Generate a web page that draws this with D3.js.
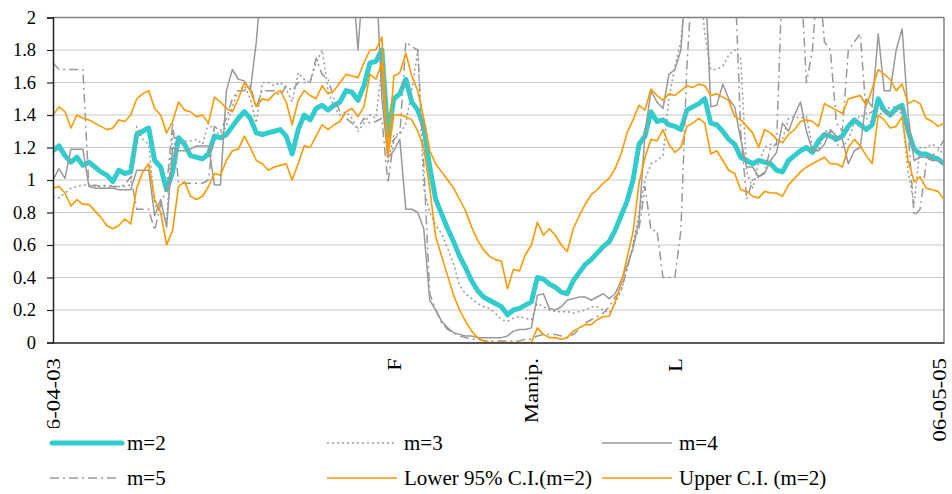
<!DOCTYPE html>
<html><head><meta charset="utf-8">
<script src="https://cdn.jsdelivr.net/npm/d3@7"></script>
<style>
html,body{margin:0;padding:0;background:#fff;}
svg{display:block;}
svg text{font-family:"Liberation Serif","Times New Roman",Times,serif;}
</style></head>
<body><svg id="chart" width="952" height="494"></svg>
<script>
// ---- data ----
const xTickIdx    = [0, 57, 80, 104, 149];
const xTickLabels = ["06-04-03", "F", "Manip.", "L", "06-05-05"];
const yTicks = [0, 0.2, 0.4, 0.6, 0.8, 1, 1.2, 1.4, 1.6, 1.8, 2];

const m2 = [1.18,1.21,1.15,1.11,1.14,1.09,1.11,1.08,1.05,1.03,0.99,1.06,1.04,1.05,1.28,1.30,1.32,1.12,1.08,0.94,
1.05,1.26,1.22,1.15,1.14,1.13,1.16,1.27,1.26,1.28,1.33,1.38,1.42,1.38,1.29,1.28,1.29,1.30,1.31,1.27,
1.16,1.31,1.40,1.37,1.44,1.46,1.43,1.46,1.48,1.55,1.54,1.49,1.58,1.72,1.73,1.80,1.27,1.50,1.53,1.62,
1.48,1.43,1.33,1.08,0.88,0.79,0.70,0.62,0.53,0.46,0.38,0.32,0.28,0.26,0.24,0.22,0.17,0.20,0.21,0.23,
0.25,0.40,0.39,0.36,0.34,0.31,0.30,0.38,0.43,0.48,0.51,0.55,0.59,0.62,0.69,0.78,0.87,1.00,1.22,1.27,
1.42,1.36,1.37,1.34,1.33,1.31,1.43,1.45,1.47,1.50,1.35,1.34,1.30,1.25,1.22,1.14,1.12,1.10,1.12,1.11,
1.10,1.06,1.05,1.12,1.15,1.18,1.20,1.17,1.24,1.28,1.27,1.25,1.27,1.33,1.37,1.34,1.31,1.34,1.50,1.43,
1.40,1.44,1.46,1.30,1.19,1.16,1.16,1.14,1.13,1.10];

const m3 = [0.90,0.89,0.92,0.95,0.96,0.97,0.97,0.96,0.96,0.96,0.95,0.96,0.96,0.97,1.33,1.25,1.22,0.85,0.80,0.75,
1.30,1.22,1.24,1.24,1.25,1.22,1.35,1.30,1.28,1.33,1.45,1.55,1.58,1.50,1.35,1.60,1.60,1.58,1.60,1.56,
1.48,1.66,1.62,1.60,1.72,1.80,1.55,1.45,1.40,1.42,1.38,1.30,1.35,1.40,1.38,1.70,1.10,1.28,1.28,1.35,
1.55,1.80,0.95,0.80,0.72,0.67,0.58,0.48,0.35,0.30,0.27,0.24,0.22,0.21,0.18,0.14,0.13,0.15,0.16,0.15,
0.14,0.24,0.22,0.20,0.19,0.19,0.19,0.18,0.19,0.20,0.22,0.22,0.20,0.18,0.24,0.32,0.45,0.60,0.80,1.00,
1.10,1.12,1.15,1.50,1.70,1.85,2.30,2.30,2.30,1.90,1.68,1.68,1.70,1.77,1.80,1.75,1.05,0.95,1.10,1.20,
1.22,1.22,1.25,1.38,1.39,1.38,1.39,1.20,1.18,1.30,1.30,1.22,1.20,1.25,1.35,1.40,1.38,1.35,1.40,1.42,
1.45,1.45,1.40,1.05,0.85,1.20,1.20,1.22,1.20,1.15];

const m4 = [1.00,1.07,1.01,1.19,1.19,1.19,0.96,0.95,0.95,0.95,0.95,0.94,0.94,0.94,1.06,1.06,1.06,0.78,0.88,0.71,
1.20,1.18,1.18,1.19,1.21,1.21,1.21,0.97,0.97,1.55,1.68,1.62,1.61,1.55,1.85,2.30,2.30,2.30,2.30,2.30,
2.30,2.30,2.30,2.30,2.30,2.30,2.30,2.30,2.30,2.30,2.30,1.80,2.30,2.30,2.30,1.50,1.14,1.18,1.25,0.82,
0.82,0.80,0.70,0.26,0.20,0.13,0.09,0.06,0.05,0.04,0.04,0.03,0.03,0.03,0.03,0.03,0.04,0.07,0.08,0.08,
0.09,0.29,0.30,0.21,0.20,0.22,0.26,0.27,0.28,0.28,0.26,0.28,0.30,0.27,0.30,0.38,0.47,0.58,0.75,1.29,
1.55,1.48,1.44,1.65,1.68,1.80,2.30,2.30,2.30,2.30,1.45,1.46,1.59,1.50,1.45,1.25,1.08,1.08,1.02,1.04,
1.12,1.17,1.35,1.30,1.40,1.48,1.30,1.18,1.18,1.22,1.31,1.27,1.25,1.10,1.18,1.20,1.50,1.45,1.90,1.55,
1.55,1.80,1.93,1.40,1.12,1.14,1.14,1.12,1.12,1.10];

const m5 = [1.72,1.68,1.68,1.68,1.68,1.68,0.96,0.97,0.96,0.97,0.96,0.96,0.97,1.02,0.82,0.82,0.82,0.69,0.85,0.95,
1.35,0.98,0.98,0.98,0.98,0.98,1.00,1.33,1.30,1.38,1.50,1.55,1.55,1.58,1.45,1.55,1.55,1.55,1.52,1.58,
1.55,1.60,1.60,1.60,1.75,1.65,1.62,1.50,1.42,1.38,1.35,1.32,1.38,1.35,1.36,1.38,0.98,1.25,1.28,1.85,
1.82,1.80,1.10,0.30,0.20,0.12,0.08,0.06,0.04,0.03,0.02,0.02,0.01,0.01,0.01,0.01,0.01,0.01,0.01,0.02,
0.02,0.04,0.05,0.05,0.05,0.04,0.03,0.05,0.08,0.12,0.14,0.16,0.18,0.22,0.28,0.32,0.45,0.60,0.70,0.96,
0.69,0.69,0.40,0.40,0.40,0.69,1.70,2.30,2.30,2.30,2.30,2.30,2.30,2.30,2.30,1.30,0.88,1.00,1.02,1.05,
1.20,1.22,2.30,2.30,2.30,2.30,1.60,1.80,2.30,1.85,1.80,1.35,1.30,1.80,1.85,1.90,1.40,1.42,1.45,1.42,
1.40,1.42,1.45,1.30,0.78,0.82,1.10,1.15,1.18,1.25];

const lowerCI = [0.95,0.96,0.92,0.84,0.88,0.85,0.85,0.81,0.77,0.72,0.70,0.72,0.76,0.73,0.95,1.05,1.10,0.88,0.80,0.60,
0.69,0.96,0.99,0.90,0.88,0.90,0.96,1.04,1.03,1.12,1.18,1.19,1.27,1.20,1.12,1.10,1.06,1.08,1.09,1.10,
1.00,1.10,1.21,1.20,1.27,1.34,1.31,1.34,1.36,1.42,1.44,1.39,1.45,1.65,1.62,1.72,1.14,1.40,1.40,1.39,
1.37,1.30,1.20,0.95,0.65,0.53,0.41,0.29,0.20,0.13,0.07,0.03,0.01,0.00,0.00,0.00,0.00,0.00,0.00,0.00,
0.00,0.09,0.05,0.03,0.03,0.02,0.03,0.07,0.09,0.11,0.11,0.14,0.16,0.16,0.25,0.36,0.52,0.68,0.98,1.14,
1.25,1.24,1.31,1.22,1.17,1.20,1.33,1.35,1.38,1.35,1.16,1.18,1.12,1.06,1.04,0.94,0.93,0.90,0.89,0.93,
0.92,0.92,0.90,0.97,1.01,1.05,1.08,1.10,1.12,1.14,1.10,1.10,1.08,1.20,1.25,1.21,1.15,1.10,1.40,1.37,
1.32,1.33,1.39,1.12,0.99,1.02,0.95,0.94,0.93,0.88];

const upperCI = [1.40,1.45,1.42,1.32,1.40,1.38,1.37,1.35,1.33,1.31,1.32,1.37,1.36,1.40,1.50,1.53,1.55,1.44,1.40,1.29,
1.36,1.48,1.43,1.42,1.39,1.40,1.35,1.51,1.48,1.44,1.42,1.50,1.60,1.55,1.45,1.50,1.49,1.53,1.55,1.48,
1.34,1.49,1.55,1.52,1.50,1.58,1.53,1.55,1.60,1.65,1.64,1.63,1.72,1.80,1.80,1.88,1.16,1.64,1.66,1.78,
1.64,1.55,1.38,1.18,1.10,1.05,1.00,0.95,0.88,0.81,0.71,0.63,0.57,0.53,0.51,0.50,0.33,0.45,0.44,0.54,
0.60,0.74,0.66,0.70,0.66,0.60,0.56,0.70,0.78,0.85,0.91,0.94,0.98,1.01,1.07,1.16,1.29,1.37,1.46,1.43,
1.56,1.52,1.49,1.53,1.52,1.55,1.58,1.57,1.59,1.58,1.52,1.53,1.51,1.49,1.39,1.37,1.33,1.29,1.20,1.31,
1.29,1.25,1.23,1.28,1.31,1.36,1.37,1.36,1.33,1.47,1.45,1.43,1.41,1.50,1.51,1.52,1.46,1.56,1.68,1.65,
1.62,1.55,1.59,1.47,1.49,1.47,1.38,1.36,1.33,1.35];

const seriesNames = ["m=2","m=3","m=4","m=5","Lower 95% C.I.(m=2)","Upper C.I. (m=2)"];

// ---- drawing ----
const FONT = "'Liberation Serif','Times New Roman',Times,serif";
const svg = d3.select("#chart");
const L = 53, R = 944, T = 17.5, B = 342.5;
const N = m2.length;
const x = d3.scaleLinear().domain([0, N - 1]).range([L, R]);
const y = d3.scaleLinear().domain([0, 2]).range([B, T]);

// gridlines
svg.append("g").selectAll("line").data(yTicks.filter(v => v > 0 && v < 2)).join("line")
  .attr("x1", L).attr("x2", R).attr("y1", d => y(d)).attr("y2", d => y(d))
  .attr("stroke", "#c8c8c8").attr("stroke-width", 1);

// plot frame (top and right)
svg.append("line").attr("x1", L).attr("x2", R).attr("y1", T).attr("y2", T)
  .attr("stroke", "#808080").attr("stroke-width", 1.5);
svg.append("line").attr("x1", R).attr("x2", R).attr("y1", T).attr("y2", B)
  .attr("stroke", "#808080").attr("stroke-width", 1.5);

svg.append("clipPath").attr("id", "clip").append("rect")
  .attr("x", L).attr("y", T).attr("width", R - L).attr("height", B - T);

const line = d3.line().x((d, i) => x(i)).y(d => y(d));
const styles = [
  {data: m2, color: "#33CCCC", w: 5, dash: null},
  {data: m3, color: "#999999", w: 1.5, dash: "2,3"},
  {data: m4, color: "#999999", w: 1.5, dash: null},
  {data: m5, color: "#999999", w: 1.5, dash: "9,4,2,4"},
  {data: lowerCI, color: "#FF9900", w: 1.6, dash: null},
  {data: upperCI, color: "#FF9900", w: 1.6, dash: null}
];
const gLines = svg.append("g").attr("clip-path", "url(#clip)");
styles.forEach(s => {
  gLines.append("path").datum(s.data).attr("d", line)
    .attr("fill", "none").attr("stroke", s.color).attr("stroke-width", s.w)
    .attr("stroke-linejoin", "round")
    .attr("stroke-dasharray", s.dash);
});

// y axis
const yAxis = svg.append("g").attr("transform", `translate(${L},0)`)
  .call(d3.axisLeft(y).tickValues(yTicks).tickSize(6).tickPadding(11).tickFormat(d3.format("")));
yAxis.attr("font-family", null).attr("font-size", null);
yAxis.select(".domain").attr("stroke", "#222").attr("stroke-width", 1.5);
yAxis.selectAll(".tick line").attr("stroke", "#222").attr("stroke-width", 1.2);
yAxis.selectAll("text").style("font-family", FONT).style("font-size", "18.5px").attr("fill", "#000");

// x axis
const xAxis = svg.append("g").attr("transform", `translate(0,${B})`)
  .call(d3.axisBottom(x).tickValues(xTickIdx).tickSize(0).tickFormat((d, i) => xTickLabels[i]));
xAxis.attr("font-family", null).attr("font-size", null);
xAxis.select(".domain").attr("stroke", "#222").attr("stroke-width", 1.5);
xAxis.selectAll(".tick").filter((d, i) => i === xTickIdx.length - 1)
  .attr("transform", `translate(${x(N - 1) - 4},0)`);
xAxis.selectAll("text")
  .style("font-family", FONT).style("font-size", "19px").attr("fill", "#000")
  .attr("text-anchor", "end")
  .attr("transform", "rotate(-90) scale(1.2,1)")
  .attr("x", -13).attr("y", 0).attr("dy", "0.33em");

// legend
const lg = svg.append("g");
lg.append("rect").attr("x", 8).attr("y", 428).attr("width", 900).attr("height", 66).attr("fill", "#fff");
const legendPos = [
  {x: 50, y: 443}, {x: 327, y: 443}, {x: 602, y: 443},
  {x: 50, y: 478}, {x: 327, y: 478}, {x: 602, y: 478}
];
[0, 1, 2, 3, 4, 5].forEach((k, j) => {
  const p = legendPos[j], s = styles[k];
  lg.append("line").attr("x1", p.x + (k === 0 ? 2 : 0)).attr("x2", p.x + (k === 0 ? 72 : 70))
    .attr("y1", p.y).attr("y2", p.y)
    .attr("stroke", s.color).attr("stroke-width", s.w)
    .attr("stroke-linecap", k === 0 ? "round" : "butt")
    .attr("stroke-dasharray", s.dash);
  lg.append("text").attr("x", p.x + 77).attr("y", p.y).attr("dy", "0.35em")
    .style("font-family", FONT).style("font-size", "21px").attr("fill", "#000").text(seriesNames[k]);
});
</script>
</body></html>
